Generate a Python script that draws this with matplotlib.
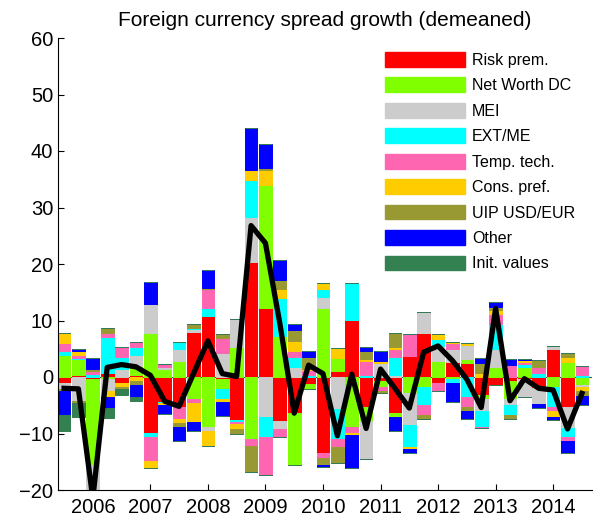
import numpy as np
import matplotlib
matplotlib.use("Agg")
import matplotlib.pyplot as plt
from matplotlib.patches import Patch

plt.rcParams['font.family'] = ['Liberation Sans', 'DejaVu Sans']

# quarters 2005Q3 .. 2014Q3
quarters = 2005.5 + 0.25 * np.arange(37)

# shock contributions
risk = [-1.0, 0.35, -0.35, 0.65, -1.0, 0.35, -9.85, -4.35, -5.25, 8.0, 10.8, -0.3, -7.6, 20.4, 12.3, -7.7,
        -6.45, -1.25, -13.4, 1.05, 10.1, -5.25, -0.7, -6.3, 3.7, 7.7, -1.05, 2.7, 2.55, -3.2, -1.45, -0.65,
        -0.3, -2.0, 5.0, -5.25, 0.0]
networth = [3.9, 2.8, -15.25, -0.3, 0.0, 1.6, 7.7, 1.4, 2.85, -3.9, -8.8, -1.8, 5.35, -11.0, 21.6, 7.3,
            -9.15, -0.9, 12.25, 2.4, -8.8, -2.55, -1.0, -0.7, -2.9, -1.7, 2.85, -0.4, 0.65, -0.75, 1.7, -3.3,
            1.7, 0.0, -1.85, 2.7, -1.4]
mei = [-1.1, -4.25, -7.0, -2.2, 1.5, 1.95, 5.2, 0.4, 2.05, 0.5, -0.75, 4.2, 4.85, 7.85, -7.0, -1.5,
       1.85, 0.0, 1.95, -5.7, 0.0, -6.8, 2.4, 0.35, -5.6, 3.8, 2.6, 2.25, 2.5, -2.0, 3.2, -1.0,
       -3.3, -2.7, 0.5, -3.85, -0.4]
ext = [0.7, 0.3, 0.45, 6.5, 2.0, 1.35, -0.75, -0.3, 1.35, 0.25, 1.35, -1.75, -0.4, 6.7, -3.55, 6.7,
       1.75, 0.3, 1.3, -5.25, 6.5, 0.35, 0.0, 3.25, -3.95, -3.25, 1.2, -0.65, -3.5, -2.85, 4.5, -1.75,
       0.6, 0.75, -3.4, -1.6, 0.3]
tech = [1.5, 0.5, 0.65, 0.6, 1.75, 1.0, -4.25, 0.5, -2.25, -0.75, 3.35, 2.75, -0.35, -1.3, -6.8, -1.4,
        1.0, 0.9, -0.85, -1.4, -1.05, 2.55, -0.7, 1.4, 3.85, -1.85, -1.45, 1.0, -1.75, -0.3, 1.75, 2.1,
        0.3, 0.95, -0.75, -0.65, 1.65]
cons = [1.65, 0.6, 0.0, -1.0, -0.8, -0.7, -1.3, -0.35, -0.65, -3.4, -2.75, -0.6, -0.8, 1.75, 2.75, 1.5,
        1.75, 0.3, 1.2, 1.6, -0.35, 0.3, 0.45, 0.3, -0.3, 0.0, 0.9, 0.25, 0.3, 0.65, 0.7, 0.0,
        0.35, 0.0, -1.0, 0.9, -0.65]
uip = [-0.35, -0.4, 0.3, 0.95, -0.3, -0.7, 0.0, 0.0, -0.65, 0.6, 0.2, 0.6, -0.95, -4.6, 0.4, 1.75,
       2.05, 2.05, -1.35, -2.9, 0.0, 1.4, -0.4, 2.55, 0.0, -0.6, 0.0, 0.0, -0.7, 1.9, 0.6, -0.7,
       0.0, 1.3, 0.0, 0.6, -1.0]
other = [-4.25, 0.4, 2.05, -2.05, 0.0, -2.1, 3.95, -1.6, -2.55, -1.5, 3.25, -2.5, 0.0, 7.45, 4.2, 3.45,
         1.0, 1.0, -0.35, 0.0, -5.85, 0.65, 1.7, -2.55, -0.65, 0.0, 0.0, -3.3, -1.5, 0.9, 0.75, 1.05,
         0.3, -0.7, -0.6, -2.05, -1.5]
init = [-2.8, -2.35, 0.0, -1.75, -1.1, -0.7, 0.0, 0.0, 0.0, 0.0, 0.0, 0.0, 0.0, 0.0, 0.0, 0.0,
        0.0, 0.0, 0.0, 0.0, 0.0, 0.0, 0.0, 0.0, 0.0, 0.0, 0.0, 0.0, 0.0, 0.0, 0.0, 0.0,
        0.0, 0.0, 0.0, 0.0, 0.0]

total = [-2.0, -2.1, -21.5, 1.7, 2.2, 1.8, 0.3, -4.3, -5.2, 0.6, 6.4, 0.6, 0.1, 26.8, 23.7, 9.5,
         -6.4, 2.1, 0.6, -10.4, 0.5, -9.1, 1.4, -2.0, -5.5, 4.4, 5.5, 2.9, -0.4, -5.4, 12.1, -4.2,
         -0.3, -2.0, -2.3, -9.2, -2.9]

labels = ['Risk prem.', 'Net Worth DC', 'MEI', 'EXT/ME', 'Temp. tech.', 'Cons. pref.',
          'UIP USD/EUR', 'Other', 'Init. values']
colors = ['#ff0000', '#80ff00', '#cccccc', '#00ffff', '#ff66b2', '#ffcc00', '#999933', '#0000ff', '#338050']
series = [risk, networth, mei, ext, tech, cons, uip, other, init]

fig = plt.figure(figsize=(6.0, 5.23), dpi=100)
ax = fig.add_axes([58/600, 1-490/523, 534/600, 452/523])

ax.axhline(0, color='#555555', lw=0.8, zorder=1)

# positive and negative parts stacked separately (zero parts leave a thin edge line)
pos_bottom = np.zeros(len(quarters))
neg_bottom = np.zeros(len(quarters))
for vals, col in zip(series, colors):
    v = np.array(vals)
    p = np.clip(v, 0, None)
    n = np.clip(v, None, 0)
    ax.bar(quarters, p, width=0.22, bottom=pos_bottom, color=col, edgecolor=col, lw=0.7, zorder=2)
    ax.bar(quarters, n, width=0.22, bottom=neg_bottom, color=col, edgecolor=col, lw=0.7, zorder=2)
    pos_bottom += p
    neg_bottom += n

ax.plot(quarters, total, color='black', lw=3.8, zorder=3)

ax.set_xlim(2005.395, 2014.675)
ax.set_ylim(-20, 60)
ax.set_yticks(range(-20, 61, 10))
ax.set_xticks(range(2006, 2015))
ax.tick_params(direction='in', length=4, labelsize=14.5, width=0.8)
ax.tick_params(axis='x', pad=6)
ax.spines['top'].set_visible(False)
ax.spines['right'].set_visible(False)
ax.set_title('Foreign currency spread growth (demeaned)', fontsize=15, pad=9)

handles = [Patch(facecolor=c, edgecolor=c) for c in colors]
ax.legend(handles, labels, loc='upper left', bbox_to_anchor=(385/600, 1-52/523),
          bbox_transform=fig.transFigure, frameon=False, fontsize=11.5,
          handlelength=5.0, handleheight=1.05, labelspacing=0.6, handletextpad=0.45,
          borderpad=0, borderaxespad=0)

fig.savefig('out.png', dpi=100)
